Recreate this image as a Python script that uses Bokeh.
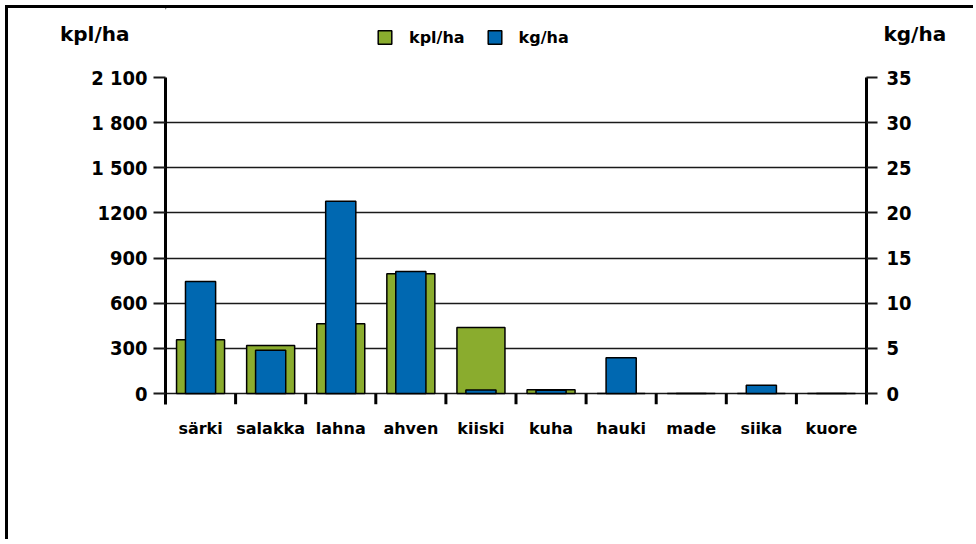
from bokeh.plotting import figure
from bokeh.layouts import column
from bokeh.models import (Range1d, FactorRange, LinearAxis, FixedTicker, Legend,
                          LegendItem, ColumnDataSource)
from bokeh.transform import dodge
from bokeh.embed import file_html
from bokeh.resources import INLINE

# ---- data ----
categories = ["särki", "salakka", "lahna", "ahven", "kiiski",
              "kuha", "hauki", "made", "siika", "kuore"]
kpl_per_ha = [357, 319, 463, 795, 439, 25, 0, 0, 0, 0]
kg_per_ha = [12.4, 4.8, 21.3, 13.5, 0.4, 0.35, 3.95, 0, 0.9, 0]
kpl_ticks = [0, 300, 600, 900, 1200, 1500, 1800, 2100]
kpl_tick_labels = ["0", "300", "600", "900", "1200", "1 500", "1 800", "2 100"]
kg_ticks = [0, 5, 10, 15, 20, 25, 30, 35]
kg_tick_labels = ["0", "5", "10", "15", "20", "25", "30", "35"]
series_names = ["kpl/ha", "kg/ha"]

GREEN = "#8aac2e"
BLUE = "#0068b1"
FONT = "DejaVu Sans"
NUM_FONT = "DejaVu Sans Condensed"

# ---- layout constants (pixels) ----
LEFT_B, FRAME_W, RIGHT_B = 157, 701, 110
HEADER_H = 57
TITLE_Y = 25          # header title row, px from header top
FRAME_H = 327
ZERO_OFFSET = 11
pad = ZERO_OFFSET / (FRAME_H - ZERO_OFFSET)
kpl_max = kpl_ticks[-1]
kg_max = kg_ticks[-1]

source = ColumnDataSource(dict(cat=categories, kpl=kpl_per_ha, kg=kg_per_ha))
sep_source = ColumnDataSource(dict(cat=categories[:-1]))

# ---------------- main chart ----------------
p = figure(x_range=FactorRange(*categories),
           y_range=Range1d(-kpl_max * pad, kpl_max),
           frame_width=FRAME_W, frame_height=FRAME_H,
           min_border_left=LEFT_B, min_border_right=RIGHT_B,
           min_border_top=12, min_border_bottom=138,
           output_backend="svg", toolbar_location=None)
p.extra_y_ranges = {"kg": Range1d(-kg_max * pad, kg_max)}
p.outline_line_color = None
p.background_fill_color = "white"
p.border_fill_color = "white"

p.xgrid.grid_line_color = None
p.ygrid.ticker = FixedTicker(ticks=kpl_ticks)
p.ygrid.grid_line_color = "#1a1a1a"
p.ygrid.grid_line_width = 1.5

ya = p.yaxis[0]
ya.ticker = FixedTicker(ticks=kpl_ticks)
ya.major_label_overrides = {t: l for t, l in zip(kpl_ticks, kpl_tick_labels)}

ra = LinearAxis(y_range_name="kg", ticker=FixedTicker(ticks=kg_ticks))
ra.major_label_overrides = {t: l for t, l in zip(kg_ticks, kg_tick_labels)}
p.add_layout(ra, "right")

for ax in (ya, ra):
    ax.axis_line_width = 3
    ax.axis_line_color = "black"
    ax.major_tick_line_width = 2
    ax.major_tick_line_color = "#1a1a1a"
    ax.major_tick_out = 12
    ax.major_tick_in = 0
    ax.minor_tick_line_color = None
    ax.major_label_text_font = NUM_FONT
    ax.major_label_text_font_style = "bold"
    ax.major_label_text_font_size = "20px"
    ax.major_label_text_color = "black"
ya.major_label_standoff = 6
ra.major_label_standoff = 9
ra.major_tick_out = 11

xa = p.xaxis[0]
xa.axis_line_color = None
xa.major_tick_line_color = None
xa.minor_tick_line_color = None
xa.major_label_text_font = FONT
xa.major_label_text_font_style = "bold"
xa.major_label_text_font_size = "16px"
xa.major_label_text_color = "black"
xa.major_label_standoff = 8

g = p.vbar(x="cat", top="kpl", bottom=0, width=0.685, source=source,
           fill_color=GREEN, line_color="black", line_width=1.5)
b = p.vbar(x="cat", top="kg", bottom=0, width=0.43, source=source,
           y_range_name="kg", fill_color=BLUE, line_color="black", line_width=1.5)

p.segment(x0=dodge("cat", 0.5, range=p.x_range), y0=0,
          x1=dodge("cat", 0.5, range=p.x_range), y1=p.y_range.start,
          source=sep_source, line_color="black", line_width=3)

# ---------------- header: legend + axis titles ----------------
h = figure(x_range=Range1d(0, 1), y_range=Range1d(HEADER_H, 0),
           frame_width=FRAME_W, frame_height=HEADER_H,
           min_border_left=LEFT_B, min_border_right=RIGHT_B,
           min_border_top=0, min_border_bottom=0,
           x_axis_type=None, y_axis_type=None,
           output_backend="svg", toolbar_location=None)
h.outline_line_color = None
h.xgrid.grid_line_color = None
h.ygrid.grid_line_color = None
h.background_fill_color = "white"
h.border_fill_color = "white"

# axis titles as the labels of header-side axes
for side, name, standoff in (("left", series_names[0], 36),
                             ("right", series_names[1], 17)):
    ax = LinearAxis(ticker=FixedTicker(ticks=[TITLE_Y]),
                    major_label_overrides={TITLE_Y: name})
    ax.axis_line_color = None
    ax.major_tick_line_color = None
    ax.minor_tick_line_color = None
    ax.major_tick_out = 0
    ax.major_label_standoff = standoff
    ax.major_label_text_font = FONT
    ax.major_label_text_font_style = "bold"
    ax.major_label_text_font_size = "20px"
    ax.major_label_text_color = "black"
    h.add_layout(ax, side)

# legend swatch renderers (their single row lies outside the view)
swatch = ColumnDataSource(dict(x=[-100], top=[-100]))
hg = h.vbar(x="x", top="top", bottom=-100, width=1, source=swatch,
            fill_color=GREEN, line_color="black", line_width=1.5)
hb = h.vbar(x="x", top="top", bottom=-100, width=1, source=swatch,
            fill_color=BLUE, line_color="black", line_width=1.5)

legend = Legend(items=[LegendItem(label=series_names[0], renderers=[hg]),
                       LegendItem(label=series_names[1], renderers=[hb])],
                orientation="horizontal", location="center_left", margin=211,
                glyph_width=17, glyph_height=17, label_standoff=16, spacing=21,
                padding=0, border_line_color=None,
                background_fill_alpha=0, label_text_color="black",
                label_text_font=FONT, label_text_font_style="bold",
                label_text_font_size="16px")
h.add_layout(legend)

layout = column(h, p, spacing=0)
layout.margin = (8, 0, 0, 8)
layout.styles = {"box-shadow": "-3px -3px 0 0 black"}

open("out.html", "w").write(file_html(layout, INLINE))
